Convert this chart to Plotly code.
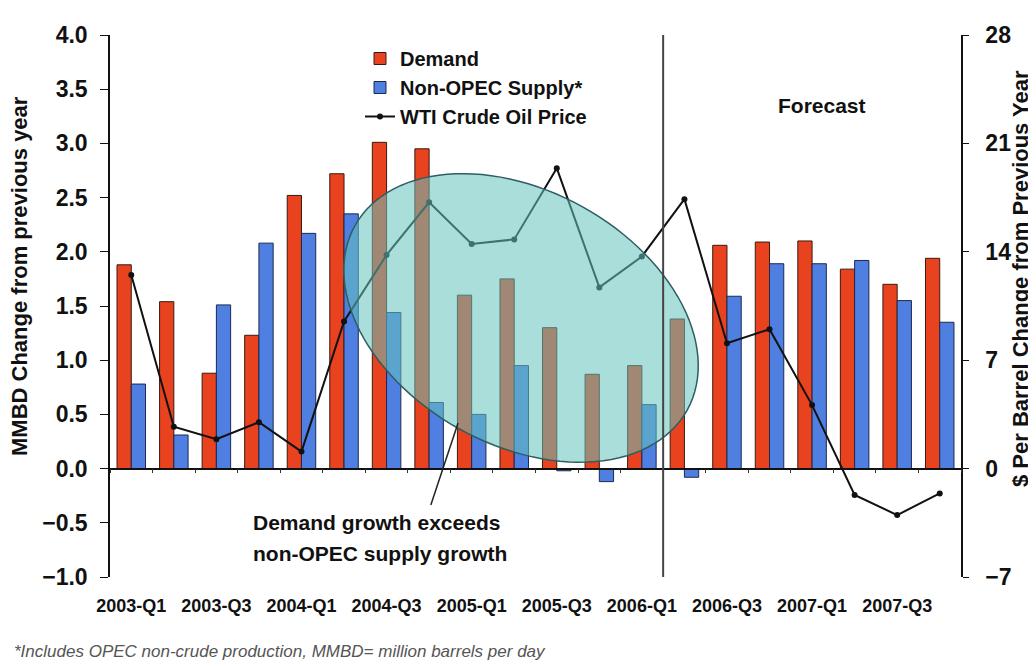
import numpy as np
import plotly.graph_objects as go

# ---------------- data ----------------
quarters = ["2003-Q1", "2003-Q2", "2003-Q3", "2003-Q4",
            "2004-Q1", "2004-Q2", "2004-Q3", "2004-Q4",
            "2005-Q1", "2005-Q2", "2005-Q3", "2005-Q4",
            "2006-Q1", "2006-Q2", "2006-Q3", "2006-Q4",
            "2007-Q1", "2007-Q2", "2007-Q3", "2007-Q4"]
demand = [1.88, 1.54, 0.88, 1.23, 2.52, 2.72, 3.01, 2.95, 1.60, 1.75,
          1.30, 0.87, 0.95, 1.38, 2.06, 2.09, 2.10, 1.84, 1.70, 1.94]
supply = [0.78, 0.31, 1.51, 2.08, 2.17, 2.35, 1.44, 0.61, 0.50, 0.95,
          -0.02, -0.12, 0.59, -0.08, 1.59, 1.89, 1.89, 1.92, 1.55, 1.35]
wti = [12.5, 2.7, 1.9, 3.0, 1.1, 9.5, 13.8, 17.2, 14.5, 14.8,
       19.4, 11.7, 13.7, 17.4, 8.1, 9.0, 4.1, -1.7, -3.0, -1.6]
tick_labels = quarters[::2]

FONT = "Liberation Sans, Arial, sans-serif"
xs = list(range(len(quarters)))

# plot-area geometry (pixels)
L, R, T, B = 102, 83, 27, 97
W, H = 1036, 666
PW, PH = W - L - R, H - T - B
XR = (-0.5, len(quarters) - 0.5)
YR = (-1.0, 4.0)
px_x = PW / (XR[1] - XR[0])
px_y = PH / (YR[1] - YR[0])

fig = go.Figure()
fig.add_trace(go.Bar(x=xs, y=demand, name="Demand",
                     marker=dict(color="#e8421e", line=dict(color="#3a1a10", width=1))))
fig.add_trace(go.Bar(x=xs, y=supply, name="Non-OPEC Supply*",
                     marker=dict(color="#4f7fe0", line=dict(color="#1c2a50", width=1))))
fig.add_trace(go.Scatter(x=xs, y=wti, name="WTI Crude Oil Price", mode="lines+markers",
                         xaxis="x2", yaxis="y2",
                         line=dict(color="#111111", width=2),
                         marker=dict(color="#111111", size=6)))

# ellipse highlighting the 2004-2006 period (annotation shape)
cx, cy = 9.16, 1.39
a, b, th = 190, 127, np.radians(29)
t = np.linspace(0, 2 * np.pi, 121)
dx = a * np.cos(t) * np.cos(th) - b * np.sin(t) * np.sin(th)
dy = a * np.cos(t) * np.sin(th) + b * np.sin(t) * np.cos(th)
ex = cx + dx / px_x
ey = cy - dy / px_y
path = "M " + " L ".join(f"{x:.4f},{y:.4f}" for x, y in zip(ex, ey)) + " Z"

shapes = [
    dict(type="path", path=path, xref="x", yref="y", layer="above",
         fillcolor="rgba(100,195,190,0.55)", line=dict(color="#2e5e60", width=1.5)),
    dict(type="line", xref="x", yref="paper", x0=12.5, x1=12.5, y0=0, y1=1,
         line=dict(color="#444444", width=2), layer="above"),
    dict(type="line", xref="x", yref="y", x0=7.04, y0=-0.336, x1=7.68, y1=0.42,
         line=dict(color="#222222", width=1.5), layer="above"),
]

def px2paper_x(p):
    return (p - L) / PW

def px2paper_y(p):
    return (H - B - p) / PH

def note(text, px, py, size=21, xanchor="center", angle=0, color="#111", italic=False, bold=True):
    return dict(text=text, x=px2paper_x(px), y=px2paper_y(py), xref="paper", yref="paper",
                xanchor=xanchor, yanchor="middle", textangle=angle, showarrow=False,
                font=dict(size=size, color=color, family=FONT,
                          weight="bold" if bold else "normal",
                          style="italic" if italic else "normal"))

annotations = [
    note("Forecast", 814, 97),
    note("Demand growth exceeds", 243, 514, xanchor="left"),
    note("non-OPEC supply growth", 243, 545, xanchor="left"),
    note("*Includes OPEC non-crude production, MMBD= million barrels per day", 4, 643,
         size=17, xanchor="left", color="#555555", italic=True, bold=False),
    note("MMBD Change from previous year", 11, 268, size=22, angle=-90),
    note("$ Per Barrel Change from Previous Year", 1012, 271, size=22, angle=-90),
]

zero_pos = (0 - YR[0]) / (YR[1] - YR[0])
bold_font = lambda s: dict(size=s, family=FONT, color="#111", weight="bold")

fig.update_layout(
    width=W, height=H, autosize=False,
    margin=dict(l=L, r=R, t=T, b=B),
    paper_bgcolor="white", plot_bgcolor="white",
    barmode="group", bargap=0.33, bargroupgap=0.0,
    font=dict(family=FONT, color="#111"),
    showlegend=True,
    legend=dict(x=px2paper_x(352), y=px2paper_y(31), xanchor="left", yanchor="top",
                bgcolor="rgba(0,0,0,0)", font=bold_font(20),
                traceorder="normal", itemwidth=30),
    xaxis=dict(range=list(XR), tickvals=xs[::2], ticktext=tick_labels,
               showline=False, showgrid=False, zeroline=False, ticks="",
               tickfont=bold_font(18), ticklabelstandoff=16),
    xaxis2=dict(range=list(XR), overlaying="x", anchor="free", position=zero_pos,
                showline=True, linecolor="#111", linewidth=1.5, showgrid=False, zeroline=False,
                tickvals=[i + 0.5 for i in xs[:-1]] + [-0.5, XR[1]], ticks="outside", ticklen=4,
                tickcolor="#333", showticklabels=False),
    yaxis=dict(range=list(YR), dtick=0.5, tickformat=".1f", showline=True, linecolor="#111",
               linewidth=1.5, ticks="outside", ticklen=8, tickcolor="#111", showgrid=False,
               zeroline=False, tickfont=bold_font(23), ticklabelstandoff=8),
    yaxis2=dict(range=[-7, 28], dtick=7, overlaying="y", side="right", anchor="x2",
                showline=True, linecolor="#111", linewidth=1.5, ticks="outside", ticklen=6,
                tickcolor="#111", showgrid=False, zeroline=False,
                tickfont=bold_font(23), ticklabelstandoff=12),
    shapes=shapes,
    annotations=annotations,
)

fig.write_html("out.html")
